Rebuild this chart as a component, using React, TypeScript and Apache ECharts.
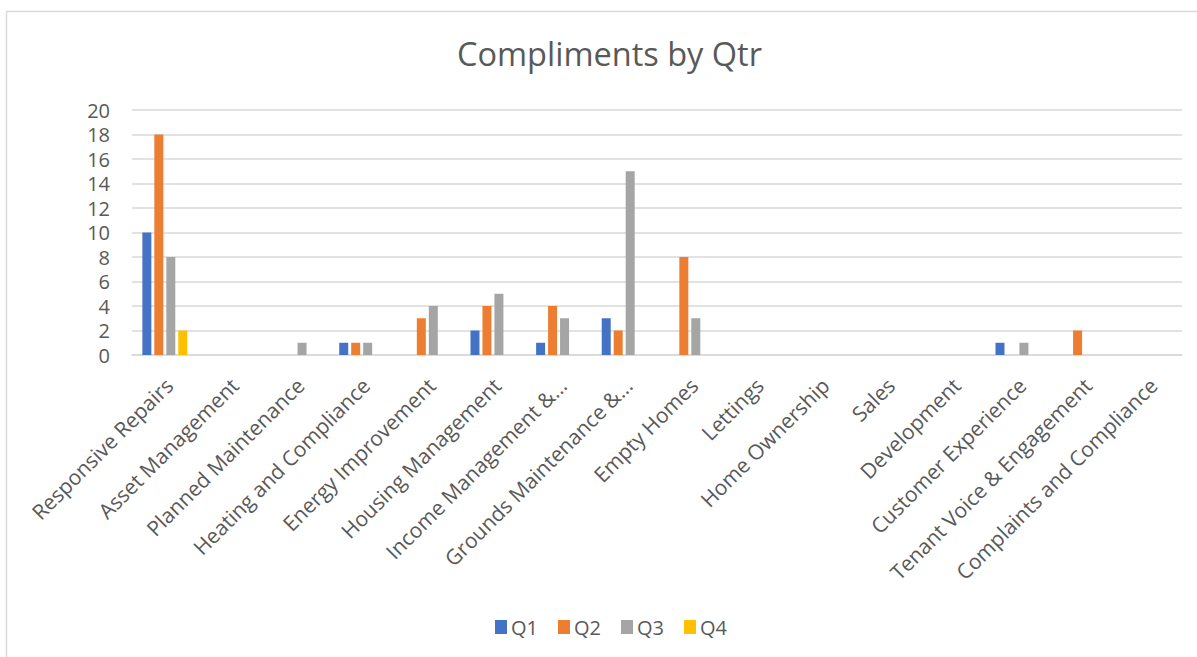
import React, { useEffect, useRef } from "react";
import * as echarts from "echarts";

const categories = [
  "Responsive Repairs",
  "Asset Management",
  "Planned Maintenance",
  "Heating and Compliance",
  "Energy Improvement",
  "Housing Management",
  "Income Management &...",
  "Grounds Maintenance &...",
  "Empty Homes",
  "Lettings",
  "Home Ownership",
  "Sales",
  "Development",
  "Customer Experience",
  "Tenant Voice & Engagement",
  "Complaints and Compliance",
];

const q1 = [10, 0, 0, 1, 0, 2, 1, 3, 0, 0, 0, 0, 0, 1, 0, 0];
const q2 = [18, 0, 0, 1, 3, 4, 4, 2, 8, 0, 0, 0, 0, 0, 2, 0];
const q3 = [8, 0, 1, 1, 4, 5, 3, 15, 3, 0, 0, 0, 0, 1, 0, 0];
const q4 = [2, 0, 0, 0, 0, 0, 0, 0, 0, 0, 0, 0, 0, 0, 0, 0];

const seriesNames = ["Q1", "Q2", "Q3", "Q4"];
const seriesColors = ["#4472C4", "#ED7D31", "#A5A5A5", "#FFC000"];

const FONT = "'Open Sans', 'Noto Sans', sans-serif";
const TEXT = "#595959";

export default function App() {
  const ref = useRef<HTMLDivElement>(null);
  useEffect(() => {
    if (!ref.current) return;
    const chart = echarts.init(ref.current, undefined, { renderer: "svg" });
    const data = [q1, q2, q3, q4];
    chart.setOption({
      animation: false,
      backgroundColor: "#ffffff",
      textStyle: { fontFamily: FONT },
      title: {
        text: "Compliments by Qtr",
        left: 452,
        top: 32,
        textStyle: { fontFamily: FONT, fontSize: 32.5, fontWeight: "normal", color: TEXT },
      },
      legend: {
        bottom: 15,
        left: 490,
        itemWidth: 12,
        itemHeight: 14,
        itemGap: 20,
        icon: "rect",
        textStyle: { fontFamily: FONT, fontSize: 20, color: TEXT, padding: [0, 0, 0, -1] },
        data: seriesNames,
      },
      graphic: [
        {
          type: "rect",
          shape: { x: 6.5, y: 11.5, width: 1250, height: 700 },
          style: { fill: "none", stroke: "#d9d9d9", lineWidth: 1.5 },
          silent: true,
          z: -1,
        },
      ],
      grid: { left: 132, right: 15, top: 110, bottom: 302, containLabel: false },
      xAxis: {
        type: "category",
        data: categories,
        axisLine: { show: true, lineStyle: { color: "#d9d9d9", width: 1.5 } },
        axisTick: { show: false },
        axisLabel: {
          interval: 0,
          rotate: 45,
          margin: 31,
          padding: [0, -6, 0, 0],
          fontFamily: FONT,
          fontSize: 21,
          color: TEXT,
        },
      },
      yAxis: {
        type: "value",
        min: 0,
        max: 20,
        interval: 2,
        axisLine: { show: false },
        axisTick: { show: false },
        axisLabel: { fontFamily: FONT, fontSize: 20, color: TEXT, margin: 22 },
        splitLine: { lineStyle: { color: "#d9d9d9", width: 1.5 } },
      },
      series: seriesNames.map((name, i) => ({
        name,
        type: "bar",
        data: data[i],
        barWidth: 9,
        barGap: "33%",
        itemStyle: { color: seriesColors[i] },
      })),
    });
    return () => chart.dispose();
  }, []);
  return (
    <div
      ref={ref}
      style={{ position: "fixed", left: 0, top: 0, width: 1197, height: 657 }}
    />
  );
}
